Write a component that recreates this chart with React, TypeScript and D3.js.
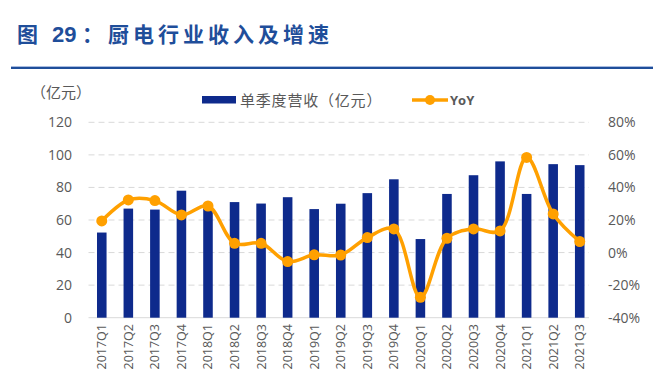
import React from "react";
import * as d3 from "d3";

const categories = ["2017Q1","2017Q2","2017Q3","2017Q4","2018Q1","2018Q2","2018Q3","2018Q4","2019Q1","2019Q2","2019Q3","2019Q4","2020Q1","2020Q2","2020Q3","2020Q4","2021Q1","2021Q2","2021Q3"];
const revenue = [52.3, 67, 66.4, 78, 67, 71, 70.1, 74, 66.7, 70, 76.5, 85, 48.3, 76, 87.5, 96, 76, 94.3, 93.7];
const yoy = [19.4, 32.3, 31.9, 23.1, 28.6, 5.7, 5.7, -5.5, -1.4, -1.5, 9.2, 14.5, -27.5, 8.8, 14.5, 13.3, 58.4, 23.7, 6.8];
const leftTicks = [0, 20, 40, 60, 80, 100, 120];
const rightTicks = [-40, -20, 0, 20, 40, 60, 80];

const BAR = "#0E2A8C";
const LINE = "#FFA000";
const GRAY = "#595959";
const FONT = "'Open Sans', 'Noto Sans CJK SC', sans-serif";
const CJK = "'Noto Sans CJK SC', sans-serif";

export default function App() {
  const W = 653, H = 373;
  const x0 = 88.5, x1 = 593, yTop = 122.3, yBot = 317.7;
  const x = d3.scaleBand<string>().domain(categories).range([x0, x1]).paddingInner(0.64).paddingOuter(0.32);
  const yL = d3.scaleLinear().domain([0, 120]).range([yBot, yTop]);
  const yR = d3.scaleLinear().domain([-40, 80]).range([yBot, yTop]);
  const cx = (c: string) => (x(c) as number) + x.bandwidth() / 2;
  const line = d3.line<number>().x((_, i) => cx(categories[i])).y(v => yR(v)).curve(d3.curveCatmullRom.alpha(0.5));

  return (
    <svg width={W} height={H} style={{ position: "absolute", left: 0, top: 0 }} fontFamily={FONT}>
      <rect width={W} height={H} fill="#fff" />
      <g fontSize={21} fontWeight="bold" fill="#1F4E9A" fontFamily={CJK}>
        <text x={17} y={42}>图</text>
        <text x={52} y={42} fontFamily="'Liberation Sans', Arial, sans-serif" fontSize={22}>29</text>
        <text x={82} y={42}>：</text>
        <text x={108} y={42} letterSpacing={4}>厨电行业收入及增速</text>
      </g>
      <line x1={11} x2={653} y1={68} y2={68} stroke="#1F4E9A" strokeWidth={2} />
      <line x1={11} x2={653} y1={66.5} y2={66.5} stroke="#A9BCE0" strokeWidth={1} />

      <text x={31} y={98} fontSize={15} fill={GRAY} fontFamily={CJK}>（亿元）</text>

      {/* legend */}
      <rect x={202} y={96} width={34} height={7.5} fill={BAR} />
      <text x={240} y={105.5} fontSize={15} letterSpacing={0.8} fill={GRAY} fontFamily={CJK}>单季度营收（亿元）</text>
      <line x1={412} x2={448} y1={100} y2={100} stroke={LINE} strokeWidth={3.5} />
      <circle cx={430} cy={100} r={5} fill={LINE} />
      <text x={450} y={105} fontSize={13} fill={GRAY} fontWeight="bold">YoY</text>

      {/* gridlines */}
      {leftTicks.filter(t => t > 0).map(t => (
        <line key={t} x1={x0} x2={x1 - 4} y1={yL(t)} y2={yL(t)} stroke="#D9D9D9" strokeWidth={1} strokeDasharray="6,4" />
      ))}
      <line x1={x0} x2={x1 - 4} y1={yBot} y2={yBot} stroke="#D9D9D9" strokeWidth={1} />

      {leftTicks.map(t => (
        <text key={t} x={72} y={yL(t) + 5} fontSize={14} fill={GRAY} textAnchor="end">{t}</text>
      ))}
      {rightTicks.map(t => (
        <text key={t} x={608} y={yR(t) + 5} fontSize={14} fill={GRAY}>{t}%</text>
      ))}

      {categories.map((c, i) => (
        <rect key={c} x={x(c)} y={yL(revenue[i])} width={x.bandwidth()} height={yBot - yL(revenue[i])} fill={BAR} />
      ))}

      <path d={line(yoy) || ""} fill="none" stroke={LINE} strokeWidth={3.5} />
      {categories.map((c, i) => (
        <circle key={c} cx={cx(c)} cy={yR(yoy[i])} r={5.5} fill={LINE} />
      ))}

      {categories.map(c => (
        <text key={c} transform={`translate(${cx(c) + 4.5},${324}) rotate(-90)`} fontSize={12.5} fill={GRAY} textAnchor="end">{c}</text>
      ))}
    </svg>
  );
}
